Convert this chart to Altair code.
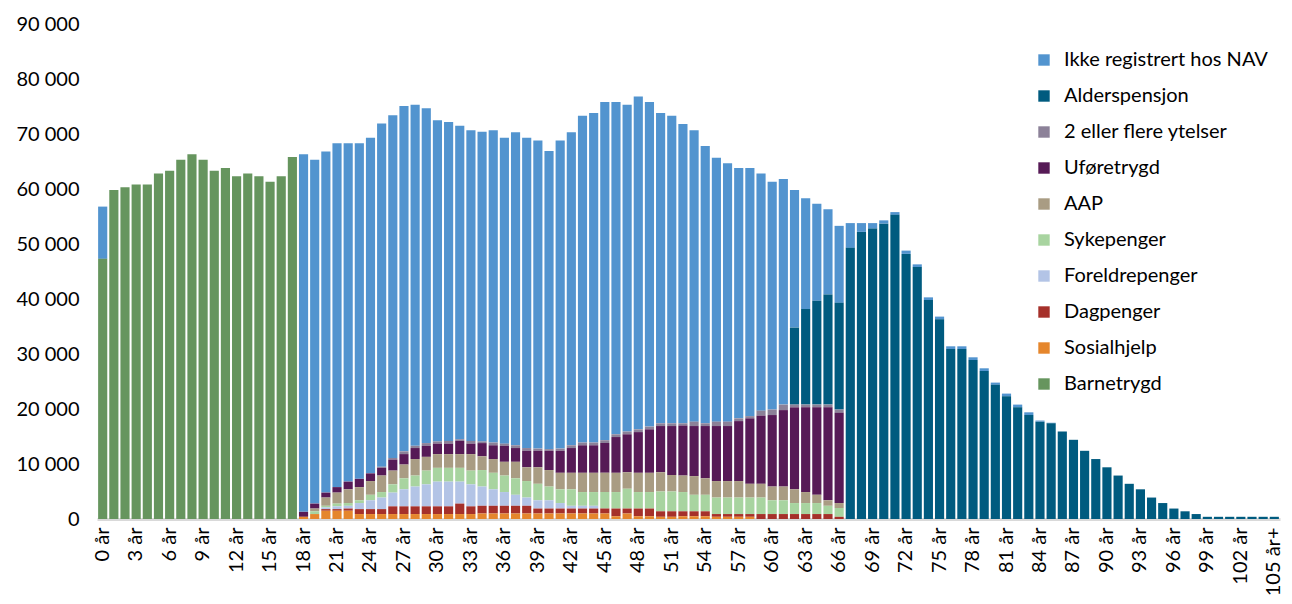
import altair as alt
import pandas as pd

# Age categories (x axis)
ages = [f"{i} år" for i in range(105)] + ["105 år+"]
tick_labels = [f"{i} år" for i in range(0, 105, 3)] + ["105 år+"]

# Series values per age 0..105
barnetrygd = [47300, 59800, 60300, 60800, 60800, 62800, 63300, 65300, 66300, 65300,
              63300, 63800, 62300, 62800, 62300, 61300, 62300, 65800] + [0] * 88

sosialhjelp = [0] * 18 + [
    400, 900, 1500, 1500, 1500, 900, 900, 900, 900, 900,          # 18-27
    900, 900, 900, 900, 900, 900, 1000, 1000, 1000, 1000,         # 28-37
    1000, 1000, 1000, 1000, 1000, 1000, 1000, 1000, 500, 1000,    # 38-47
    500, 500, 400, 400, 500, 500, 500, 400, 400, 400,             # 48-57
    400, 0, 0, 0, 0, 0, 0, 0, 0] + [0] * 39                        # 58-66

dagpenger = [0] * 18 + [
    0, 0, 300, 300, 400, 900, 900, 900, 1400, 1400,
    1400, 1400, 1400, 1400, 1900, 1400, 1400, 1400, 1400, 1400,
    1400, 900, 900, 900, 900, 900, 900, 900, 1400, 900,
    1400, 1400, 1000, 1000, 900, 900, 900, 500, 500, 500,
    500, 900, 900, 900, 900, 900, 900, 900, 400] + [0] * 39

foreldrepenger = [0] * 18 + [
    0, 0, 300, 500, 500, 1100, 1600, 2100, 2500, 3100,
    3600, 4000, 4500, 4500, 4000, 4000, 3500, 3000, 2500, 2000,
    1500, 1500, 1500, 1000, 500, 500, 500, 0, 0, 0,
    0, 0, 0, 0, 0, 0, 0, 0, 0, 0,
    0, 0, 0, 0, 0, 0, 0, 0, 0] + [0] * 39

sykepenger = [0] * 18 + [
    0, 500, 300, 500, 500, 500, 1000, 1000, 1500, 2000,
    2000, 2500, 2500, 2500, 2500, 2500, 3000, 3000, 3000, 3000,
    3000, 3000, 2500, 2500, 3000, 2500, 2500, 3000, 3000, 3600,
    3000, 3000, 3600, 3600, 3500, 3000, 3000, 3000, 3000, 3000,
    3000, 3000, 2500, 2500, 2000, 2000, 2000, 1500, 1600] + [0] * 39

aap = [0] * 18 + [
    0, 500, 1500, 2000, 2500, 2400, 2500, 3000, 2500, 2500,
    3000, 2500, 2500, 2500, 2500, 3000, 2500, 2500, 2500, 3000,
    2500, 3000, 3000, 3000, 3000, 3500, 3500, 3500, 3500, 3000,
    3500, 3500, 3500, 3000, 3000, 3400, 3000, 3000, 3000, 3000,
    2500, 2500, 2500, 2500, 2500, 2000, 1500, 1000, 900] + [0] * 39

uforetrygd = [0] * 18 + [
    900, 900, 900, 1000, 1400, 1500, 1400, 1400, 2000, 1900,
    2000, 2000, 1900, 1900, 2400, 1900, 2400, 2500, 2900, 2500,
    3000, 3000, 3500, 4000, 4500, 5000, 5000, 5400, 6500, 6900,
    7400, 7900, 8400, 8900, 9100, 9100, 9500, 10000, 10000, 10900,
    11900, 12400, 13000, 13900, 14900, 15400, 15900, 16900, 16400] + [0] * 39

flere_ytelser = [0] * 18 + [
    0, 0, 0, 0, 0, 0, 0, 200, 300, 500,
    400, 500, 400, 500, 300, 500, 300, 500, 400, 500,
    500, 400, 300, 400, 500, 500, 500, 500, 500, 500,
    500, 500, 500, 500, 400, 800, 500, 800, 800, 500,
    400, 900, 1000, 1000, 500, 500, 500, 500, 600] + [0] * 39

alderspensjon = [0] * 62 + [
    14000, 17400, 18900, 20000, 19400,                              # 62-66
    49300, 52200, 52800, 53700, 55300, 48200, 45800, 39800, 36300,  # 67-75
    30900, 30900, 28900, 26900, 24400, 22300, 20300, 18900, 17700,  # 76-84
    17400, 15900, 14400, 12400, 10900, 9400, 7900, 6400, 5400,      # 85-93
    3900, 2900, 1900, 1400, 900, 400, 400, 400, 400, 400, 400, 400]  # 94-105

ikke_registrert = [9500] + [0] * 17 + [
    65000, 62500, 62000, 62500, 61500, 61000, 61000, 62400, 62300, 62800,
    62000, 60900, 58400, 58000, 57000, 56500, 56300, 56800, 55600, 56900,
    56400, 56000, 54200, 56000, 56900, 59400, 59900, 61500, 60400, 59400,
    60500, 59000, 56400, 55900, 54400, 53000, 50400, 48000, 47000, 45500,
    45100, 43100, 41400, 41000, 25000, 20100, 17600, 15500, 14000,
    4500, 1600, 1000, 600, 500, 600, 500, 500, 500, 500,
    500, 500, 500, 400, 500, 500, 500, 200, 100] + [0] * 20

# Legend order (top to bottom) and colours
series_names = ["Ikke registrert hos NAV", "Alderspensjon", "2 eller flere ytelser",
                "Uføretrygd", "AAP", "Sykepenger", "Foreldrepenger", "Dagpenger",
                "Sosialhjelp", "Barnetrygd"]
series_colors = ["#5294CF", "#005B7F", "#8C8198", "#561A56", "#A99C83",
                 "#A8D4A0", "#B3C4E6", "#A5302A", "#E5862C", "#66955E"]
series_values = [ikke_registrert, alderspensjon, flere_ytelser, uforetrygd, aap,
                 sykepenger, foreldrepenger, dagpenger, sosialhjelp, barnetrygd]

rows = []
for idx, (name, vals) in enumerate(zip(series_names, series_values)):
    for a, v in zip(ages, vals):
        if v > 0:
            rows.append({"alder": a, "ytelse": name, "antall": v,
                         "rekke": len(series_names) - idx})
df = pd.DataFrame(rows)

y_ticks = [0, 10000, 20000, 30000, 40000, 50000, 60000, 70000, 80000, 90000]

chart = alt.Chart(df).mark_bar().encode(
    x=alt.X("alder:N", sort=ages,
            scale=alt.Scale(domain=ages, paddingInner=0.18, paddingOuter=0.1),
            axis=alt.Axis(values=tick_labels, labelAngle=-90, title=None, ticks=False,
                          labelFontSize=20, labelPadding=8, domainColor="#d9d9d9",
                          domainWidth=3, labelColor="#000000", grid=False)),
    y=alt.Y("antall:Q", stack="zero",
            scale=alt.Scale(domain=[0, 90000], nice=False),
            axis=alt.Axis(values=y_ticks, title=None, ticks=False, domain=False,
                          grid=False, labelFontSize=20, labelPadding=18,
                          labelColor="#000000",
                          labelExpr="replace(format(datum.value, ','), ',', '\u2005')")),
    color=alt.Color("ytelse:N",
                    scale=alt.Scale(domain=series_names, range=series_colors),
                    legend=alt.Legend(title=None, orient="none", legendX=937, legendY=26,
                                      symbolType="square", symbolSize=130,
                                      symbolStrokeWidth=0, labelFontSize=20,
                                      labelColor="#000000", rowPadding=16, padding=0,
                                      labelOffset=10, labelLimit=400)),
    order=alt.Order("rekke:Q", sort="ascending"),
).properties(
    width=1276, height=588,
    autosize=alt.AutoSizeParams(type="fit", contains="padding"),
    padding={"left": 8, "top": 6, "right": 0, "bottom": 0},
).configure(font="Lato").configure_view(stroke=None)

chart.save("out.html", embed_options={"renderer": "svg", "actions": False})
